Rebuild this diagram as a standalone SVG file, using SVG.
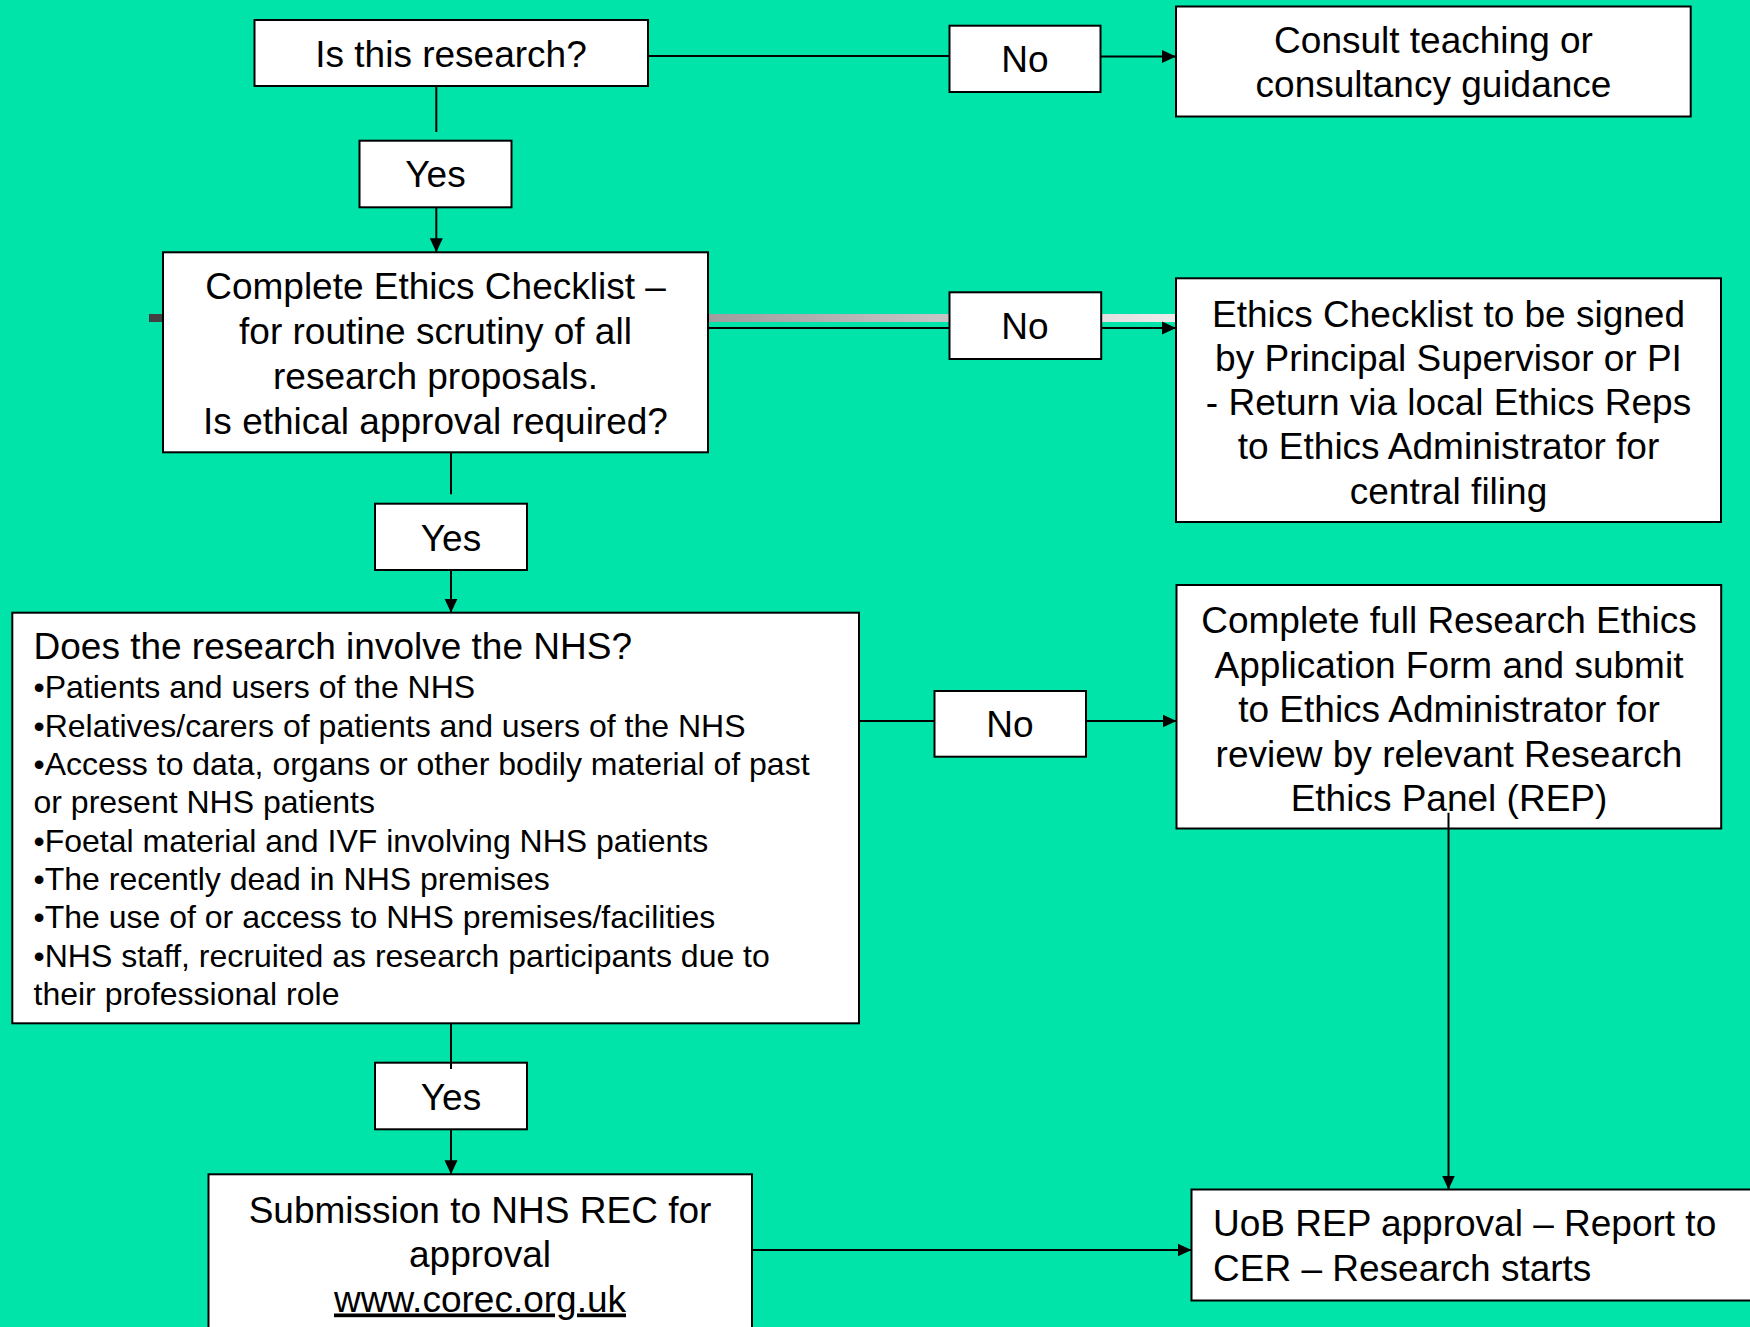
<svg xmlns="http://www.w3.org/2000/svg" width="1750" height="1327" viewBox="0 0 1750 1327">
<defs>
<style>
.box{fill:#ffffff;stroke:#000000;stroke-width:2}
.t{font-family:"Liberation Sans",Arial,sans-serif;font-size:37px;fill:#000000;text-anchor:middle}
.s{font-family:"Liberation Sans",Arial,sans-serif;font-size:32px;fill:#000000}
.l{font-family:"Liberation Sans",Arial,sans-serif;font-size:37px;fill:#000000;text-anchor:start}
.c{stroke:#000000;stroke-width:2;fill:none}
.a{stroke:#000000;stroke-width:2;fill:none;marker-end:url(#arr)}
</style>
<marker id="arr" markerUnits="userSpaceOnUse" markerWidth="15" markerHeight="14" refX="14" refY="7" orient="auto">
<path d="M0,0.5 L14,7 L0,13.5 Z" fill="#000000"/>
</marker>
<linearGradient id="gbar" gradientUnits="userSpaceOnUse" x1="149" y1="0" x2="1176" y2="0">
<stop offset="0" stop-color="#404040"/>
<stop offset="1" stop-color="#ececec"/>
</linearGradient>
</defs>
<rect x="0" y="0" width="1750" height="1327" fill="#00E4A9"/>
<g id="shadow-bar">
<rect x="149" y="314" width="1027" height="8" fill="url(#gbar)"/>
</g>
<g id="n-research">
<rect class="box" x="254.5" y="20" width="393.5" height="66"/>
<text class="t" x="451" y="66.5">Is this research?</text>
</g>
<g id="n-no1">
<rect class="box" x="949.5" y="25.7" width="151" height="66.3"/>
<text class="t" x="1025" y="71.5">No</text>
</g>
<g id="n-consult">
<rect class="box" x="1176" y="6.5" width="514.7" height="110"/>
<text class="t" x="1433.5" y="52.7">Consult teaching or</text>
<text class="t" x="1433.5" y="96.7">consultancy guidance</text>
</g>
<g id="n-yes1">
<rect class="box" x="359.5" y="140.7" width="152" height="66.6"/>
<text class="t" x="435.5" y="187">Yes</text>
</g>
<g id="n-checklist">
<rect class="box" x="163" y="252.3" width="545" height="200"/>
<text class="t" x="435.5" y="298.5">Complete Ethics Checklist –</text>
<text class="t" x="435.5" y="343.5">for routine scrutiny of all</text>
<text class="t" x="435.5" y="388.5">research proposals.</text>
<text class="t" x="435.5" y="433.5">Is ethical approval required?</text>
</g>
<g id="n-no2">
<rect class="box" x="949.5" y="292.3" width="151.7" height="66.7"/>
<text class="t" x="1025" y="339.3">No</text>
</g>
<g id="n-signed">
<rect class="box" x="1176" y="278.3" width="545" height="243.7"/>
<text class="t" x="1448.5" y="326.5">Ethics Checklist to be signed</text>
<text class="t" x="1448.5" y="370.8">by Principal Supervisor or PI</text>
<text class="t" x="1448.5" y="415.1">- Return via local Ethics Reps</text>
<text class="t" x="1448.5" y="459.4">to Ethics Administrator for</text>
<text class="t" x="1448.5" y="503.7">central filing</text>
</g>
<g id="n-yes2">
<rect class="box" x="375" y="503.7" width="152" height="66.3"/>
<text class="t" x="451" y="551">Yes</text>
</g>
<g id="n-nhs">
<rect class="box" x="12.3" y="612.7" width="846.7" height="410.6"/>
<text class="l" x="33.5" y="658.5">Does the research involve the NHS?</text>
<text class="s" x="33.5" y="698.3">•Patients and users of the NHS</text>
<text class="s" x="33.5" y="736.7">•Relatives/carers of patients and users of the NHS</text>
<text class="s" x="33.5" y="775">•Access to data, organs or other bodily material of past</text>
<text class="s" x="33.5" y="813.3">or present NHS patients</text>
<text class="s" x="33.5" y="851.7">•Foetal material and IVF involving NHS patients</text>
<text class="s" x="33.5" y="890">•The recently dead in NHS premises</text>
<text class="s" x="33.5" y="928.3">•The use of or access to NHS premises/facilities</text>
<text class="s" x="33.5" y="966.7">•NHS staff, recruited as research participants due to</text>
<text class="s" x="33.5" y="1005">their professional role</text>
</g>
<g id="n-no3">
<rect class="box" x="934.5" y="691" width="151.5" height="65.7"/>
<text class="t" x="1010" y="737">No</text>
</g>
<g id="n-application">
<rect class="box" x="1176.5" y="585" width="544.7" height="243.5"/>
<text class="t" x="1449" y="633">Complete full Research Ethics</text>
<text class="t" x="1449" y="677.5">Application Form and submit</text>
<text class="t" x="1449" y="722">to Ethics Administrator for</text>
<text class="t" x="1449" y="766.5">review by relevant Research</text>
<text class="t" x="1449" y="811">Ethics Panel (REP)</text>
</g>
<g id="n-yes3">
<rect class="box" x="375" y="1062.7" width="152" height="66.6"/>
<text class="t" x="451" y="1109.5">Yes</text>
</g>
<g id="n-submission">
<rect class="box" x="208.5" y="1174.3" width="543.5" height="200"/>
<text class="t" x="480" y="1222.5">Submission to NHS REC for</text>
<text class="t" x="480" y="1267">approval</text>
<text class="t" x="480" y="1311.5" text-decoration="underline">www.corec.org.uk</text>
</g>
<g id="n-uob">
<rect class="box" x="1191.5" y="1189.5" width="600" height="111"/>
<text class="l" x="1213" y="1236">UoB REP approval – Report to</text>
<text class="l" x="1213" y="1280.5">CER – Research starts</text>
</g>
<g id="connectors">
<line class="c" x1="648" y1="56" x2="949.5" y2="56"/>
<line class="a" x1="1100.5" y1="56.5" x2="1176" y2="56.5"/>
<line class="c" x1="436.3" y1="86" x2="436.3" y2="132"/>
<line class="a" x1="436.3" y1="207.3" x2="436.3" y2="252.3"/>
<line class="c" x1="708" y1="328" x2="949.5" y2="328"/>
<line class="a" x1="1101.2" y1="328" x2="1176" y2="328"/>
<line class="c" x1="451" y1="452.3" x2="451" y2="494.3"/>
<line class="a" x1="451" y1="570" x2="451" y2="612.7"/>
<line class="c" x1="859" y1="721" x2="934.5" y2="721"/>
<line class="a" x1="1086" y1="721" x2="1176.5" y2="721"/>
<line class="c" x1="451" y1="1023.3" x2="451" y2="1069"/>
<line class="a" x1="451" y1="1129.3" x2="451" y2="1174.3"/>
<line class="a" x1="752" y1="1250" x2="1191.5" y2="1250"/>
<line class="a" x1="1448.5" y1="812.7" x2="1448.5" y2="1189.5"/>
</g>
</svg>
